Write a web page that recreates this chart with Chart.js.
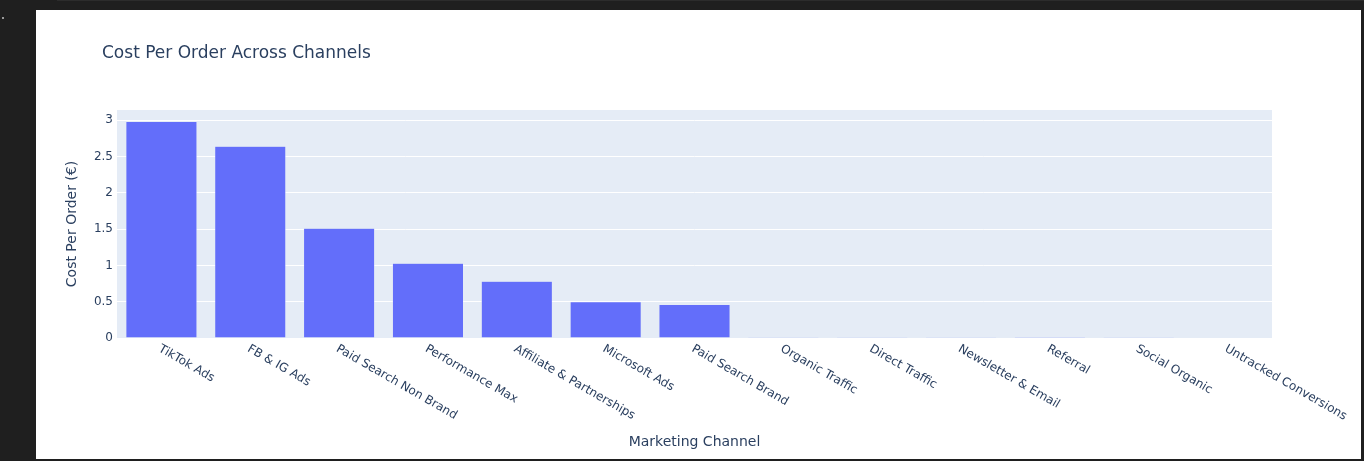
<!DOCTYPE html>
<html>
<head>
<meta charset="utf-8">
<script src="https://cdn.jsdelivr.net/npm/chart.js@4.4.1/dist/chart.umd.min.js"></script>
<style>
  html, body { margin: 0; padding: 0; background: #1f1f1f; width: 1364px; height: 461px; overflow: hidden; }
  #topband { position: absolute; left: 57px; top: 0; width: 1307px; height: 1px; background: #2c2c2c; }
  #dot { position: absolute; left: 2px; top: 17px; width: 2px; height: 2px; background: #9a9a9a; }
  #box { position: absolute; left: 36px; top: 10px; width: 1325px; height: 449px; background: #ffffff; }
  canvas { display: block; }
</style>
</head>
<body>
<div id="topband"></div>
<div id="dot"></div>
<div id="box"><canvas id="c" width="1325" height="449"></canvas></div>
<script>
const categories = ["TikTok Ads", "FB & IG Ads", "Paid Search Non Brand", "Performance Max",
  "Affiliate & Partnerships", "Microsoft Ads", "Paid Search Brand", "Organic Traffic",
  "Direct Traffic", "Newsletter & Email", "Referral", "Social Organic", "Untracked Conversions"];
const costPerOrder = [2.98, 2.64, 1.51, 1.03, 0.78, 0.50, 0.46, 0.012, 0.002, 0.002, 0.001, 0.002, 0];
const chartTitle = "Cost Per Order Across Channels";
const xTitle = "Marketing Channel";
const yTitle = "Cost Per Order (€)";
const yMax = 3.14;
const yStep = 0.5;

const FONT = "'DejaVu Sans', Verdana, sans-serif";
const TXT = "#2a3f5f";

const decor = {
  id: 'decor',
  beforeDraw(chart) {
    const { ctx, chartArea: a } = chart;
    ctx.save();
    ctx.fillStyle = '#E5ECF6';
    ctx.fillRect(a.left, a.top, a.right - a.left, a.bottom - a.top);
    ctx.restore();
  },
  afterDraw(chart) {
    const { ctx } = chart;
    const xs = chart.scales.x;
    ctx.save();
    ctx.fillStyle = TXT;
    ctx.font = "17px " + FONT;
    ctx.textAlign = 'left';
    ctx.textBaseline = 'middle';
    ctx.fillText(chartTitle, 66, 44);
    ctx.font = "12px " + FONT;
    const labels = chart.data.labels;
    labels.forEach((lab, i) => {
      const x = xs.getPixelForTick(i);
      ctx.save();
      ctx.translate(x - 2, xs.top + 10);
      ctx.rotate(Math.PI / 6);
      ctx.textAlign = 'left';
      ctx.textBaseline = 'middle';
      ctx.fillText(lab, 0, 0);
      ctx.restore();
    });
    ctx.restore();
  }
};

new Chart(document.getElementById('c'), {
  type: 'bar',
  data: {
    labels: categories,
    datasets: [{
      data: costPerOrder,
      backgroundColor: '#636efa',
      borderColor: '#E5ECF6',
      borderWidth: 0.5,
      barPercentage: 0.8,
      categoryPercentage: 1.0
    }]
  },
  options: {
    responsive: false,
    animation: false,
    layout: { padding: { left: 0, right: 89, top: 100, bottom: 0 } },
    plugins: { legend: { display: false }, title: { display: false }, tooltip: { enabled: false } },
    scales: {
      x: {
        type: 'category',
        offset: true,
        grid: { display: false, drawTicks: false },
        border: { display: false },
        ticks: { display: false },
        title: { display: true, text: xTitle, color: TXT, font: { family: FONT, size: 14 }, padding: { top: 4, bottom: 8 } },
        afterFit(s) { s.height = 121; }
      },
      y: {
        min: 0,
        max: yMax,
        grid: { color: '#ffffff', lineWidth: 1, drawTicks: false },
        border: { display: false },
        ticks: {
          stepSize: yStep, includeBounds: false, color: TXT, padding: 4,
          font: { family: FONT, size: 12 },
          callback: (v) => String(Math.round(v * 100) / 100)
        },
        title: { display: true, text: yTitle, color: TXT, font: { family: FONT, size: 14 }, padding: { top: 28, bottom: 0 } },
        afterFit(s) { s.width = 81; }
      }
    }
  },
  plugins: [decor]
});
</script>
</body>
</html>
